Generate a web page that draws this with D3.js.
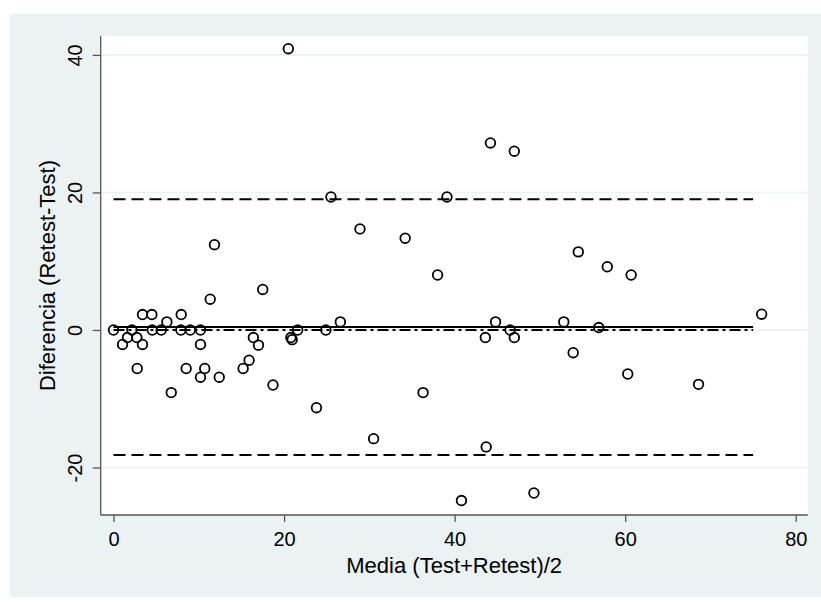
<!DOCTYPE html>
<html>
<head>
<meta charset="utf-8">
<script src="https://cdn.jsdelivr.net/npm/d3@7"></script>
<style>
  body { margin: 0; background: #fff; }
  svg { display: block; font-family: "Liberation Sans", Arial, sans-serif; }
</style>
</head>
<body>
<script>
// media (test+retest)/2 and diferencia (retest-test)
var media = [0, 1.06, 1.64, 2.16, 2.74, 3.4, 4.5, 3.4, 2.78, 4.54, 5.6, 6.26, 7.94, 7.9, 9.0, 10.2, 10.2,
             11.34, 17.5, 6.77, 8.52, 10.7, 10.2, 12.4, 16.4, 17.0, 15.9, 15.2, 18.7, 20.95, 20.8, 21.6,
             24.9, 23.8, 26.6, 11.84, 20.5, 25.5, 28.9, 30.5, 34.2, 36.3, 38.0, 39.1, 40.8, 43.6, 43.7,
             44.2, 44.8, 46.5, 47.0, 47.0, 49.3, 52.8, 53.9, 54.5, 56.9, 57.9, 60.3, 60.7, 68.6, 76.0];
var diferencia = [0, -2.1, -1.1, 0, -1.1, 2.25, 2.25, -2.1, -5.6, 0, 0, 1.18, 2.25, 0, 0, 0, -2.1,
                  4.48, 5.9, -9.1, -5.6, -5.6, -6.86, -6.86, -1.1, -2.2, -4.4, -5.6, -8.0, -1.4, -1.1, 0,
                  0, -11.3, 1.18, 12.4, 40.9, 19.35, 14.7, -15.8, 13.35, -9.1, 8.0, 19.35, -24.8, -1.1, -17.0,
                  27.2, 1.18, 0, -1.1, 26.0, -23.7, 1.18, -3.3, 11.36, 0.36, 9.2, -6.4, 8.0, -7.9, 2.3];

var xTicks = [0, 20, 40, 60, 80];
var yTicks = [-20, 0, 20, 40];
var lineRange = [0, 75];
var limites = [19.02, -18.16];   // limites de concordancia
var mediaDif = 0.43;             // diferencia media
var cero = 0;

var W = 821, H = 603;
var pL = 100.7, pR = 807.7, pT = 36, pB = 515;

var svg = d3.select('body').append('svg').attr('width', W).attr('height', H);

svg.append('rect').attr('x', 10).attr('y', 14).attr('width', W - 10).attr('height', 583)
    .attr('fill', '#eaf2f3');
svg.append('rect').attr('x', pL).attr('y', pT).attr('width', pR - pL).attr('height', pB - pT)
    .attr('fill', '#fff');

var x = d3.scaleLinear().domain([-1.5, 81.4]).range([pL, pR]);
var y = d3.scaleLinear().domain([-26.9, 42.75]).range([pB, pT]);

// grid
svg.append('g').selectAll('line').data(yTicks).enter().append('line')
    .attr('x1', pL).attr('x2', pR)
    .attr('y1', function(d) { return y(d); }).attr('y2', function(d) { return y(d); })
    .attr('stroke', '#eaf2f3').attr('stroke-width', 1.6);

// axes (plain hyphen for negatives, like the original)
function fmt(d) { return String(d); }

var yAxis = svg.append('g').attr('transform', 'translate(' + pL + ',0)')
    .call(d3.axisLeft(y).tickValues(yTicks).tickSize(8).tickSizeOuter(0).tickFormat(fmt));
yAxis.select('.domain').attr('stroke', '#555').attr('stroke-width', 1.3).attr('d', 'M0,' + pT + 'V' + pB);
yAxis.selectAll('.tick line').attr('stroke', '#555').attr('stroke-width', 1.3);
yAxis.selectAll('.tick text')
    .attr('x', 0).attr('y', 0).attr('dy', 0)
    .attr('transform', 'translate(-19,0) rotate(-90)')
    .attr('text-anchor', 'middle')
    .style('font-size', '20px').attr('fill', '#000');

var xAxis = svg.append('g').attr('transform', 'translate(0,' + pB + ')')
    .call(d3.axisBottom(x).tickValues(xTicks).tickSize(7).tickSizeOuter(0).tickFormat(fmt));
xAxis.select('.domain').attr('stroke', '#555').attr('stroke-width', 1.3).attr('d', 'M' + pL + ',0H' + pR);
xAxis.selectAll('.tick line').attr('stroke', '#555').attr('stroke-width', 1.3);
xAxis.selectAll('.tick text').attr('y', 31).attr('dy', 0)
    .style('font-size', '20px').attr('fill', '#000');

// reference lines
function hline(v, dash, w) {
    svg.append('line')
        .attr('x1', x(lineRange[0])).attr('x2', x(lineRange[1]))
        .attr('y1', y(v)).attr('y2', y(v))
        .attr('stroke', '#000').attr('stroke-width', w)
        .attr('stroke-dasharray', dash);
}
hline(cero, '11,4,3,4', 1.8);
hline(mediaDif, null, 2);
limites.forEach(function(v) { hline(v, '12,6', 2); });

// points
svg.append('g').selectAll('circle').data(media).enter().append('circle')
    .attr('cx', function(d) { return x(d); })
    .attr('cy', function(d, i) { return y(diferencia[i]); })
    .attr('r', 4.8)
    .attr('fill', 'none').attr('stroke', '#000').attr('stroke-width', 1.8);

// titles
svg.append('text').attr('x', (pL + pR) / 2).attr('y', 573)
    .attr('text-anchor', 'middle').style('font-size', '22px').attr('fill', '#000')
    .text('Media (Test+Retest)/2');
svg.append('text').attr('transform', 'translate(55,' + ((pT + pB) / 2) + ') rotate(-90)')
    .attr('text-anchor', 'middle').style('font-size', '22px').attr('fill', '#000')
    .text('Diferencia (Retest-Test)');
</script>
</body>
</html>
